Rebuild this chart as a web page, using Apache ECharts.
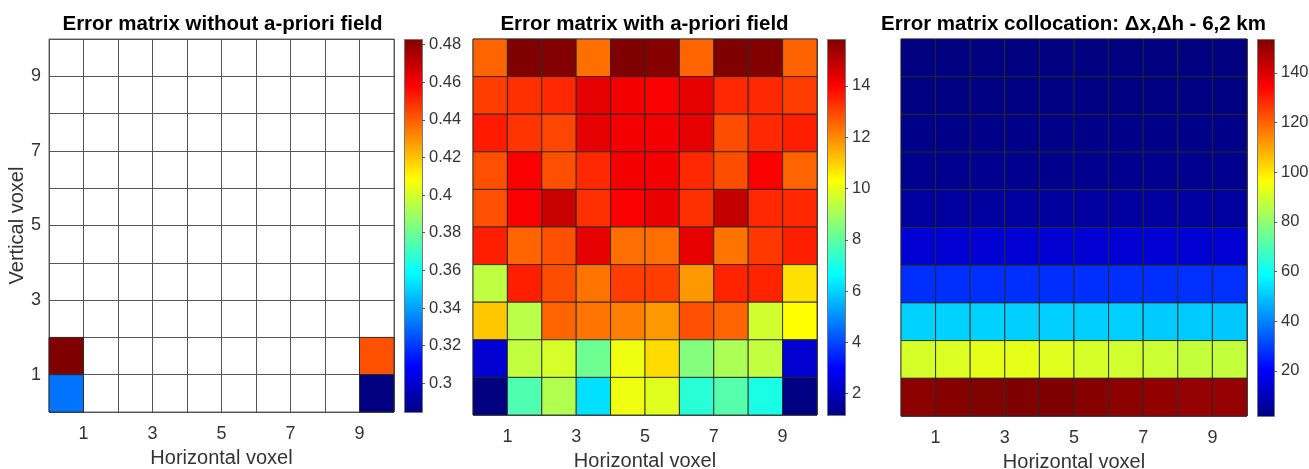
<!DOCTYPE html>
<html><head><meta charset="utf-8">
<script src="https://cdn.jsdelivr.net/npm/echarts@6/dist/echarts.min.js"></script>
<style>html,body{margin:0;padding:0;background:#fff}#c{width:1309px;height:469px}</style>
</head><body><div id="c"></div>
<script>
// ---------------- data ----------------
const titles = [
  'Error matrix without a-priori field',
  'Error matrix with a-priori field',
  'Error matrix collocation: \u0394x,\u0394h - 6,2 km'
];
const xAxisTitle = 'Horizontal voxel';
const yAxisTitle = 'Vertical voxel';
const xTickLabels = [1, 3, 5, 7, 9];
const yTickLabels = [1, 3, 5, 7, 9];
const nCols = 10;
const nRows = 10;

// colour limits (data min / max) of each panel
const range1 = [0.2847, 0.483];
const range2 = [1.17, 15.83];
const range3 = [1.8, 153.6];

// colour-bar tick labels
const cbTicks1 = [0.3, 0.32, 0.34, 0.36, 0.38, 0.4, 0.42, 0.44, 0.46, 0.48];
const cbTicks2 = [2, 4, 6, 8, 10, 12, 14];
const cbTicks3 = [20, 40, 60, 80, 100, 120, 140];

// matrices, rows listed from top (vertical voxel 10) to bottom (vertical voxel 1)
const withoutPrior = [
  [null, null, null, null, null, null, null, null, null, null],
  [null, null, null, null, null, null, null, null, null, null],
  [null, null, null, null, null, null, null, null, null, null],
  [null, null, null, null, null, null, null, null, null, null],
  [null, null, null, null, null, null, null, null, null, null],
  [null, null, null, null, null, null, null, null, null, null],
  [null, null, null, null, null, null, null, null, null, null],
  [null, null, null, null, null, null, null, null, null, null],
  [0.483, null, null, null, null, null, null, null, null, 0.4428],
  [0.3318, null, null, null, null, null, null, null, null, 0.2847]
];
const withPrior = [
  [12.57, 15.83, 15.8, 12.42, 15.83, 15.75, 12.57, 15.83, 15.8, 12.6],
  [13.13, 13.33, 13.43, 14.36, 14.15, 14.07, 14.36, 13.43, 13.43, 13.13],
  [13.63, 13.26, 13.0, 14.36, 14.15, 14.15, 14.36, 12.9, 13.43, 13.55],
  [12.86, 14.07, 12.86, 13.43, 14.15, 14.15, 13.43, 12.9, 14.07, 12.57],
  [12.86, 14.07, 14.8, 13.33, 14.07, 14.29, 13.33, 14.87, 13.43, 13.43],
  [13.55, 12.57, 12.86, 14.36, 12.42, 12.42, 14.36, 12.35, 13.2, 13.55],
  [9.4, 13.55, 12.9, 12.35, 13.13, 13.13, 11.84, 13.5, 13.5, 10.77],
  [11.14, 9.32, 12.57, 12.35, 12.2, 11.84, 12.86, 12.57, 9.67, 10.33],
  [2.34, 9.45, 9.75, 8.24, 10.11, 10.85, 8.54, 9.12, 9.45, 2.34],
  [1.17, 7.8, 9.2, 6.23, 10.11, 9.89, 7.25, 7.88, 7.03, 1.2]
];
const collocation = [
  [1.8, 1.8, 1.9, 1.9, 1.9, 1.9, 1.9, 1.8, 1.8, 1.8],
  [2.3, 2.3, 2.3, 2.3, 2.3, 2.3, 2.3, 2.3, 2.3, 2.3],
  [3.0, 3.0, 3.0, 3.0, 3.0, 3.0, 3.0, 3.0, 3.0, 3.0],
  [4.0, 4.0, 4.0, 4.0, 4.0, 4.0, 4.0, 4.0, 4.0, 4.0],
  [6.5, 6.5, 6.5, 6.5, 6.5, 6.5, 6.5, 6.5, 6.6, 6.6],
  [14.0, 14.0, 14.0, 14.0, 14.0, 14.0, 14.0, 14.0, 14.2, 14.2],
  [27.6, 27.6, 27.6, 27.6, 27.6, 27.6, 27.6, 27.6, 27.8, 27.8],
  [52.0, 52.0, 52.0, 51.5, 51.5, 51.5, 51.5, 51.0, 51.0, 50.5],
  [90.6, 91.4, 92.9, 92.9, 92.1, 90.6, 89.9, 89.1, 87.8, 87.8],
  [151.7, 152.5, 153.5, 153.6, 153.6, 152.5, 151.7, 150.9, 150.4, 150.4]
];

// ---------------- styling / layout ----------------
const jet = ['#000080', '#0000ff', '#0080ff', '#00ffff', '#80ff80', '#ffff00', '#ff8000', '#ff0000', '#800000'];
const FONT = 'Liberation Sans, Arial, Helvetica, sans-serif';
const TXT = '#333333';
const plots = [
  {left: 49, top: 39, width: 345, height: 373, cx: 222.5},
  {left: 473, top: 39, width: 344, height: 376, cx: 644.5},
  {left: 901, top: 39, width: 346, height: 377, cx: 1073.5}
];
const bars = [
  {left: 404, top: 39, width: 18, height: 373},
  {left: 827, top: 39, width: 18, height: 376},
  {left: 1257, top: 39, width: 17, height: 377}
];

function toCells(mat) {
  const out = [];
  mat.forEach((row, r) => {
    row.forEach((v, c) => {
      if (v !== null) out.push([c + 1, nRows - r, v]);
    });
  });
  return out;
}
const matrices = [withoutPrior, withPrior, collocation];
const ranges = [range1, range2, range3];
const cbTicks = [cbTicks1, cbTicks2, cbTicks3];

function renderCell(params, api) {
  const x = api.value(0), y = api.value(1);
  const p0 = api.coord([x - 1, y - 1]);
  const p1 = api.coord([x, y]);
  return {
    type: 'rect',
    shape: {x: p0[0], y: p1[1], width: p1[0] - p0[0], height: p0[1] - p1[1]},
    style: {fill: api.visual('color'), stroke: 'rgba(40,40,40,0.85)', lineWidth: 1}
  };
}

const grid = [], xAxis = [], yAxis = [], series = [], visualMap = [], title = [], graphic = [];
for (let i = 0; i < 3; i++) {
  const p = plots[i];
  grid.push({left: p.left, top: p.top, width: p.width, height: p.height,
    outerBoundsMode: 'none', containLabel: false,
    show: true, borderColor: '#666', borderWidth: 1, backgroundColor: '#fff'});
  xAxis.push({
    type: 'value', gridIndex: i, min: 0, max: nCols, interval: 1,
    name: xAxisTitle, nameLocation: 'middle', nameGap: 36,
    nameTextStyle: {fontFamily: FONT, fontSize: 20, color: TXT},
    axisLine: {show: false, onZero: false}, axisTick: {show: false},
    axisLabel: {margin: 13, fontFamily: FONT, fontSize: 18, color: TXT,
      formatter: v => xTickLabels.includes(v) ? String(v) : ''},
    splitLine: {show: true, lineStyle: {color: '#555', width: 1}}
  });
  yAxis.push({
    type: 'value', gridIndex: i, min: 0, max: nRows, interval: 1,
    name: i === 0 ? yAxisTitle : '', nameLocation: 'middle', nameGap: 20,
    nameTextStyle: {fontFamily: FONT, fontSize: 20, color: TXT},
    axisLine: {show: false, onZero: false}, axisTick: {show: false},
    axisLabel: {show: i === 0, margin: 8, fontFamily: FONT, fontSize: 18, color: TXT,
      formatter: v => yTickLabels.includes(v) ? String(v) : ''},
    splitLine: {show: true, lineStyle: {color: '#555', width: 1}}
  });
  series.push({
    type: 'custom', xAxisIndex: i, yAxisIndex: i,
    data: toCells(matrices[i]), encode: {x: 0, y: 1},
    renderItem: renderCell, z: 3
  });
  title.push({
    text: titles[i], left: p.cx, top: 14, textAlign: 'center', padding: 0,
    textStyle: {fontFamily: FONT, fontSize: 20.5, fontWeight: 'bold', color: '#000'}
  });
}
// colour bars
for (let i = 0; i < 3; i++) {
  const b = bars[i];
  const gi = 3 + i;
  visualMap.push({
    type: 'continuous', seriesIndex: i, dimension: 2,
    min: ranges[i][0], max: ranges[i][1],
    inRange: {color: jet}, show: false
  });
  graphic.push({
    type: 'rect', left: b.left, top: b.top, z: 5,
    shape: {width: b.width, height: b.height},
    style: {
      fill: new echarts.graphic.LinearGradient(0, 1, 0, 0,
        jet.map((c, k) => ({offset: k / (jet.length - 1), color: c}))),
      stroke: '#777', lineWidth: 1
    }
  });
  grid.push({left: b.left, top: b.top, width: b.width, height: b.height, show: false,
    outerBoundsMode: 'none', containLabel: false});
  xAxis.push({type: 'value', gridIndex: gi, show: false, min: 0, max: 1,
    axisLine: {onZero: false}});
  yAxis.push({
    type: 'value', gridIndex: gi, position: 'right', min: ranges[i][0], max: ranges[i][1], z: 12,
    axisLine: {show: false, onZero: false},
    axisTick: {show: true, inside: false, length: 3, lineStyle: {color: '#555'}, customValues: cbTicks[i]},
    axisLabel: {margin: 7, fontFamily: FONT, fontSize: 16.5, color: TXT, customValues: cbTicks[i]},
    splitLine: {show: false}
  });
}

const chart = echarts.init(document.getElementById('c'), null, {renderer: 'canvas'});
chart.setOption({
  animation: false, backgroundColor: '#fff',
  title, grid, xAxis, yAxis, visualMap, series, graphic
});
</script></body></html>
